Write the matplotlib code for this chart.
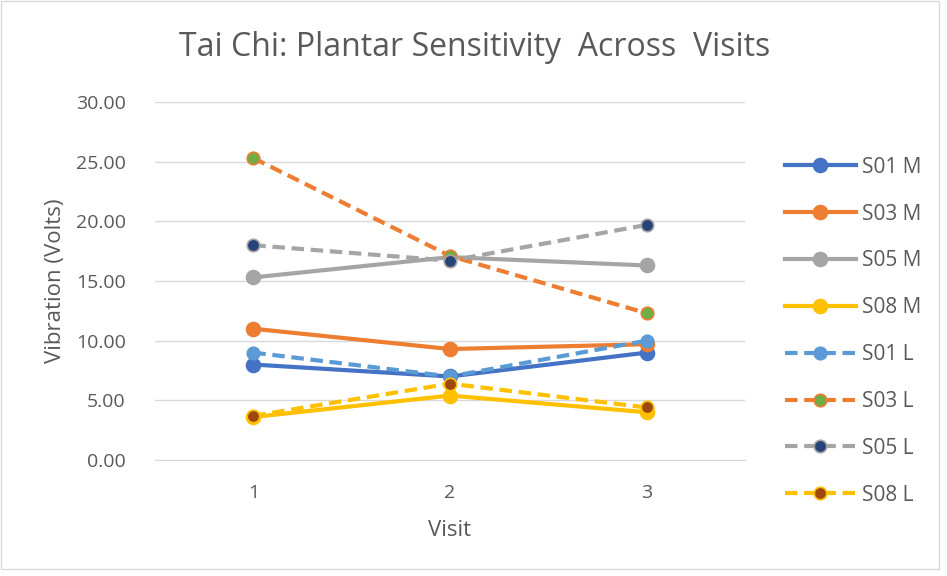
import matplotlib.pyplot as plt
from matplotlib.patches import Rectangle

visits = [1, 2, 3]
series_names = ["S01 M", "S03 M", "S05 M", "S08 M", "S01 L", "S03 L", "S05 L", "S08 L"]
s01_m = [8.0, 7.0, 9.0]
s03_m = [11.0, 9.3, 9.7]
s05_m = [15.3, 17.0, 16.3]
s08_m = [3.6, 5.4, 4.0]
s01_l = [9.0, 7.0, 10.0]
s03_l = [25.3, 17.1, 12.3]
s05_l = [18.0, 16.7, 19.7]
s08_l = [3.7, 6.4, 4.4]
values = [s01_m, s03_m, s05_m, s08_m, s01_l, s03_l, s05_l, s08_l]

line_colors = ["#4472C4", "#ED7D31", "#A5A5A5", "#FFC000",
               "#5B9BD5", "#ED7D31", "#A5A5A5", "#FFC000"]
face_colors = ["#4472C4", "#ED7D31", "#A5A5A5", "#FFC000",
               "#5B9BD5", "#70AD47", "#264478", "#9E480E"]

plt.rcParams['font.family'] = ['Open Sans', 'DejaVu Sans']
text_col = "#595959"

fig = plt.figure(figsize=(9.47, 5.76), dpi=100)
ax = fig.add_axes([155 / 947, 1 - 460 / 576, 590 / 947, 358 / 576])

# light border around the chart
fig.patches.append(Rectangle((0.001, 0.012), 0.991, 0.986, transform=fig.transFigure,
                             fill=False, edgecolor="#D9D9D9", linewidth=1))

for i, name in enumerate(series_names):
    dashed = name.endswith("L")
    ax.plot(visits, values[i], color=line_colors[i],
            linestyle=(0, (3, 1.6)) if dashed else "-",
            linewidth=3, marker="o", markersize=9 if dashed else 10,
            markerfacecolor=face_colors[i], markeredgecolor=line_colors[i],
            markeredgewidth=1.2, label=name, zorder=3 + i)

ax.set_xlim(0.5, 3.5)
ax.set_ylim(0, 30)
ax.set_xticks(visits)
ax.set_yticks(range(0, 31, 5))
ax.set_yticklabels(["%.2f" % v for v in range(0, 31, 5)])
ax.grid(axis="y", color="#D9D9D9", linewidth=1)
ax.set_axisbelow(True)
for s in ["top", "right", "left"]:
    ax.spines[s].set_visible(False)
ax.spines["bottom"].set_color("#D9D9D9")
ax.tick_params(axis="both", length=0, labelsize=14, labelcolor=text_col)
ax.tick_params(axis="y", pad=21)
ax.tick_params(axis="x", pad=17)

ax.set_xlabel("Visit", fontsize=16, color=text_col)
ax.set_ylabel("Vibration (Volts)", fontsize=16, color=text_col)
ax.xaxis.set_label_coords(0.5, (460 - 520) / 358)
ax.yaxis.set_label_coords((66 - 155) / 590, 0.5)
fig.text(475 / 947, 1 - 47 / 576, "Tai Chi: Plantar Sensitivity  Across  Visits",
         fontsize=23, color=text_col, ha="center", va="center")

leg = ax.legend(loc="upper left", bbox_to_anchor=(766 / 947, 1 - 138 / 576),
                bbox_transform=fig.transFigure, frameon=False, fontsize=15,
                labelcolor=text_col, handlelength=3.4, labelspacing=1.24,
                handletextpad=0.3)

fig.savefig("out.png", dpi=100)
